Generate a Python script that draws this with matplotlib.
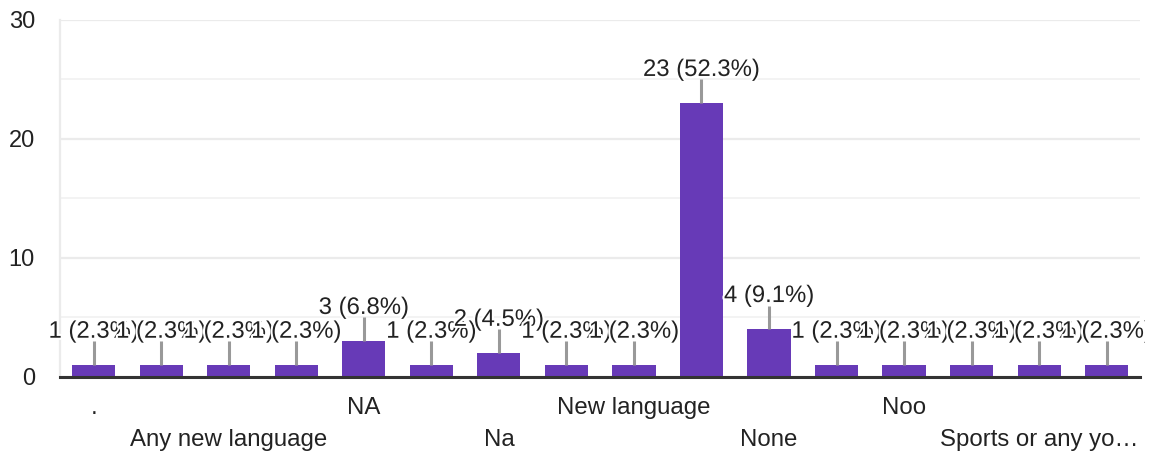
import matplotlib
matplotlib.use("Agg")
import matplotlib.pyplot as plt
import matplotlib.patheffects as pe
from matplotlib.transforms import Bbox, TransformedBbox

categories = [".", "-", "Any new language", "Dance", "NA", "Music", "Na", "Nil",
              "New language", "No", "None", "Nope", "Noo", "Nothing",
              "Sports or any yoga", "Yoga"]
display_labels = [".", "", "Any new language", "", "NA", "", "Na", "",
                  "New language", "", "None", "", "Noo", "",
                  "Sports or any yo\u2026", ""]
values = [1, 1, 1, 1, 3, 1, 2, 1, 1, 23, 4, 1, 1, 1, 1, 1]
total = sum(values)

plt.rcParams['font.family'] = ['Liberation Sans', 'DejaVu Sans']

fig = plt.figure(figsize=(11.52, 4.53), dpi=100)
ax = fig.add_axes([0.052, 0.168, 0.938, 0.788])

x = list(range(len(values)))
ax.bar(x, values, width=0.64, color="#673ab7", zorder=3)

ax.set_xlim(-0.5, len(values) - 0.5)
ax.set_ylim(0, 30)
ax.set_yticks([0, 10, 20, 30])
ax.set_yticks([5, 15, 25], minor=True)
ax.grid(axis='y', which='major', color="#ebebeb", linewidth=1.6, zorder=0)
ax.grid(axis='y', which='minor', color="#f3f3f3", linewidth=1.4, zorder=0)
ax.tick_params(axis='y', which='both', length=0, labelsize=17, labelcolor="#222222", pad=18)
ax.tick_params(axis='x', length=0)
for s in ['top', 'right']:
    ax.spines[s].set_visible(False)
ax.spines['left'].set_color("#ebebeb")
ax.spines['left'].set_linewidth(1.6)
ax.spines['bottom'].set_color("#333333")
ax.spines['bottom'].set_linewidth(2.2)
ax.spines['bottom'].set_zorder(4)
ax.set_xticks(x)
ax.set_xticklabels([])

for i, lab in enumerate(display_labels):
    if not lab:
        continue
    row = (i // 2) % 2
    ax.annotate(lab, xy=(i, 0), xycoords='data',
                xytext=(0, -26.5 if row == 0 else -49.5), textcoords='offset points',
                ha='center', va='baseline', fontsize=17.3, color="#222222",
                annotation_clip=False)

clip_box = TransformedBbox(Bbox([[0, 0], [1145 / 1152, 1]]), fig.transFigure)

for i, v in enumerate(values):
    ax.plot([i, i], [v, v + 2.0], color="#999999", linewidth=2.2, zorder=4,
            solid_capstyle='butt')
    pct = 100.0 * v / total
    t = ax.annotate(f"{v} ({pct:.1f}%)", xy=(i, v + 2.0), xytext=(0, 2.5),
                    textcoords='offset points', ha='center', va='baseline',
                    fontsize=17.2, color="#222222", zorder=5,
                    path_effects=[pe.withStroke(linewidth=3, foreground='white')],
                    annotation_clip=False)
    t.set_clip_on(True)
    t.set_clip_box(clip_box)

fig.savefig("out.png", dpi=100, facecolor='white')
